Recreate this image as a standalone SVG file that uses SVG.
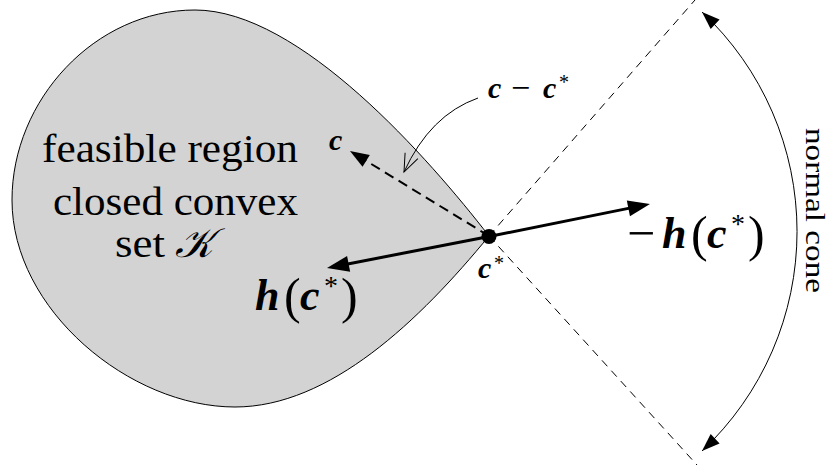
<svg xmlns="http://www.w3.org/2000/svg" width="831" height="465" viewBox="0 0 831 465">
<style>
.thin{fill:none;stroke:#000;stroke-width:1}
.cone{fill:none;stroke:#000;stroke-width:1;stroke-dasharray:8 6}
.thick{fill:none;stroke:#000;stroke-width:3}
.dash2{fill:none;stroke:#000;stroke-width:2;stroke-dasharray:10 6}
</style>
<defs>
<marker id="hThick" markerUnits="userSpaceOnUse" orient="auto" refX="0" refY="0" markerWidth="1" markerHeight="1" overflow="visible"><path d="M12,0 L-10,-8 L-10,8 Z" fill="#000"/></marker>
<marker id="hDash" markerUnits="userSpaceOnUse" orient="auto" refX="0" refY="0" markerWidth="1" markerHeight="1" overflow="visible"><path d="M10,0 L-9,-7 L-9,7 Z" fill="#000"/></marker>
<marker id="hThin" markerUnits="userSpaceOnUse" orient="auto-start-reverse" refX="0" refY="0" markerWidth="1" markerHeight="1" overflow="visible"><path d="M0,0 L-18,-6.5 L-18,6.5 Z" fill="#000"/></marker>
<marker id="hOpen" markerUnits="userSpaceOnUse" orient="auto" refX="0" refY="0" markerWidth="1" markerHeight="1" overflow="visible"><path d="M-18,-7 L0,0 L-18,7" fill="none" stroke="#000" stroke-width="1"/></marker>
</defs>

<g id="region">
<path d="M 489 236 C 430 160, 300 10, 195 10 C 95 10, 12 100, 12 200 C 12 310, 130 407, 235 407 C 330 407, 420 320, 489 236 Z" fill="#d3d3d3" stroke="#000" stroke-width="1"/>
<g font-family="Liberation Serif, DejaVu Serif, serif" font-size="41" fill="#000">
<text x="42" y="162" textLength="256" lengthAdjust="spacingAndGlyphs">feasible region</text>
<text x="53" y="215" textLength="245" lengthAdjust="spacingAndGlyphs">closed convex</text>
<text x="115" y="257" textLength="50" lengthAdjust="spacingAndGlyphs">set</text>
<text x="175" y="257" font-style="italic">𝒦</text>
</g>
</g>

<g id="connectors">
<line class="cone" x1="489" y1="236" x2="695" y2="0"/>
<line class="cone" x1="489" y1="236" x2="697" y2="465"/>
<line class="dash2" x1="489" y1="236" x2="358.5" y2="156.2" marker-end="url(#hDash)"/>
<line class="thick" x1="489" y1="236.5" x2="638.2" y2="206.4" marker-end="url(#hThick)"/>
<line class="thick" x1="489" y1="236.5" x2="338.8" y2="265.7" marker-end="url(#hThick)"/>
<path class="thin" d="M 478 98 Q 430 115 404 172" marker-end="url(#hOpen)"/>
<path class="thin" d="M 702 12 A 301 301 0 0 1 702 451" marker-start="url(#hThin)" marker-end="url(#hThin)"/>
</g>

<g id="cstar" font-family="Liberation Serif, DejaVu Serif, serif" fill="#000">
<circle cx="489" cy="236.5" r="7.5" fill="#000"/>
<text font-size="30" font-weight="bold" font-style="italic" x="478" y="278">c</text>
<text font-size="20" x="494" y="270">*</text>
</g>

<g id="c-label" font-family="Liberation Serif, DejaVu Serif, serif" fill="#000">
<text font-size="30" font-weight="bold" font-style="italic" x="329" y="150">c</text>
</g>

<g id="c-minus-cstar" font-family="Liberation Serif, DejaVu Serif, serif" fill="#000">
<text font-size="30" font-weight="bold" font-style="italic" x="488" y="98">c</text>
<text font-size="34" x="511" y="99">−</text>
<text font-size="30" font-weight="bold" font-style="italic" x="543" y="98">c</text>
<text font-size="20" x="559" y="89">*</text>
</g>

<g id="h-label" font-family="Liberation Serif, DejaVu Serif, serif" fill="#000">
<text font-size="44" font-weight="bold" font-style="italic" x="255" y="310">h</text>
<text font-size="50" x="284" y="313">(</text>
<text font-size="44" font-weight="bold" font-style="italic" x="300" y="310">c</text>
<text font-size="28" x="324" y="295">*</text>
<text font-size="50" x="341" y="313">)</text>
</g>

<g id="neg-h-label" font-family="Liberation Serif, DejaVu Serif, serif" fill="#000">
<text font-size="50" x="627" y="250">−</text>
<text font-size="44" font-weight="bold" font-style="italic" x="662" y="248">h</text>
<text font-size="50" x="691" y="251">(</text>
<text font-size="44" font-weight="bold" font-style="italic" x="707" y="248">c</text>
<text font-size="28" x="731" y="233">*</text>
<text font-size="50" x="748" y="251">)</text>
</g>

<g id="normal-cone" font-family="Liberation Serif, DejaVu Serif, serif" fill="#000">
<text font-size="27" transform="translate(806,128) rotate(90)" x="0" y="0" textLength="165" lengthAdjust="spacingAndGlyphs">normal cone</text>
</g>
</svg>
